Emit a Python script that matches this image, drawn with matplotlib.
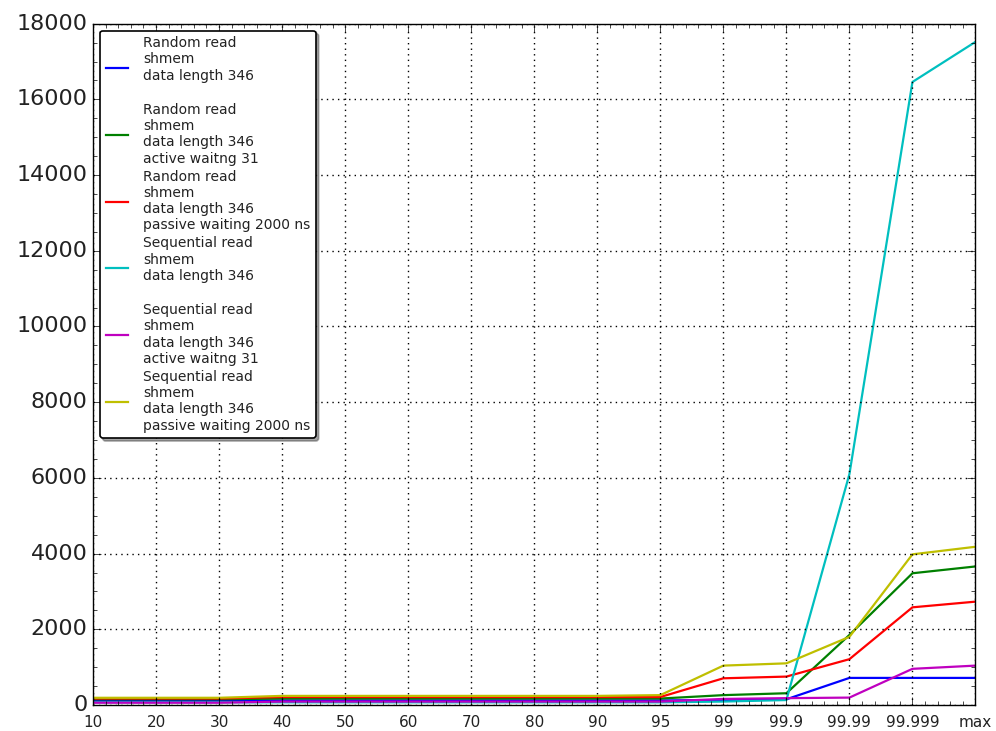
import numpy as np
import matplotlib
matplotlib.use("Agg")
import matplotlib.pyplot as plt
from matplotlib.ticker import AutoMinorLocator, MultipleLocator

plt.style.use("classic")

# percentiles on the x axis
percentiles = ["10", "20", "30", "40", "50", "60", "70", "80", "90", "95",
               "99", "99.9", "99.99", "99.999", "max"]

# latency values for each run
random_plain = [110, 110, 110, 120, 120, 120, 120, 120, 120, 120, 130, 150, 715, 715, 715]
random_active = [150, 150, 150, 170, 170, 170, 170, 170, 170, 170, 260, 310, 1850, 3480, 3660]
random_passive = [170, 170, 170, 210, 210, 210, 210, 210, 210, 210, 705, 750, 1210, 2580, 2730]
seq_plain = [70, 70, 70, 70, 70, 70, 70, 70, 70, 70, 90, 130, 6100, 16460, 17520]
seq_active = [60, 60, 60, 90, 90, 90, 90, 90, 90, 90, 160, 180, 195, 955, 1040]
seq_passive = [190, 190, 190, 240, 240, 240, 240, 240, 240, 260, 1040, 1100, 1800, 3980, 4180]

labels = [
    "Random read\nshmem\ndata length 346\n",
    "Random read\nshmem\ndata length 346\nactive waitng 31",
    "Random read\nshmem\ndata length 346\npassive waiting 2000 ns",
    "Sequential read\nshmem\ndata length 346\n",
    "Sequential read\nshmem\ndata length 346\nactive waitng 31",
    "Sequential read\nshmem\ndata length 346\npassive waiting 2000 ns",
]
series = [random_plain, random_active, random_passive, seq_plain, seq_active, seq_passive]

fig = plt.figure(figsize=(9.96, 7.31), dpi=100, facecolor="white")
ax = fig.add_axes([0.0934, 0.0356, 0.886, 0.932])

x = np.arange(len(percentiles))
for vals, lab in zip(series, labels):
    ax.plot(x, vals, linewidth=1.6, label=lab)

ax.set_xlim(0, len(percentiles) - 1)
ax.set_ylim(0, 18000)
ax.set_xticks(x)
ax.set_xticklabels(percentiles, fontsize=11, color="#222222")
ax.yaxis.set_major_locator(MultipleLocator(2000))
for t in ax.get_yticklabels():
    t.set_fontsize(16)
    t.set_color("#222222")
ax.xaxis.set_minor_locator(AutoMinorLocator(5))
ax.yaxis.set_minor_locator(AutoMinorLocator(4))
ax.tick_params(which="major", length=6)
ax.tick_params(which="minor", length=3)
ax.tick_params(axis="x", which="major", pad=7)
ax.grid(True, which="major", linestyle=":", color="k", linewidth=1.0)

leg = ax.legend(loc="upper left", fontsize=10, shadow=True, fancybox=True,
                labelspacing=0.3, handlelength=1.6, handletextpad=1.1,
                borderaxespad=0.5, numpoints=1)
leg.get_frame().set_linewidth(1.2)
for t in leg.get_texts():
    t.set_color("#222222")

fig.savefig("out.png", dpi=100, facecolor="white")
